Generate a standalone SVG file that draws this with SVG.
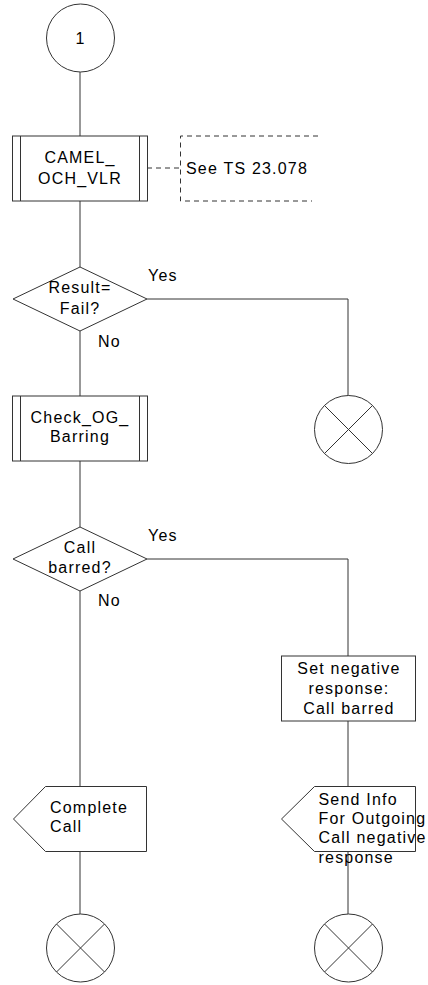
<svg xmlns="http://www.w3.org/2000/svg" width="428" height="985" viewBox="0 0 428 985">
<style>
.s{fill:#fff;stroke:#333;stroke-width:1}
.l{fill:none;stroke:#333;stroke-width:1}
.d{fill:none;stroke:#333;stroke-width:1;stroke-dasharray:5,4}
text{font-family:"Liberation Sans",Arial,sans-serif;font-size:16px;letter-spacing:1.2px;fill:#000}
.c{text-anchor:middle}
</style>
<rect width="428" height="985" fill="#fff"/>
<g id="connectors">
<line class="l" x1="80" y1="72" x2="80" y2="136"/>
<line class="l" x1="80" y1="201" x2="80" y2="267"/>
<polyline class="l" points="147,299 348,299 348,396"/>
<line class="l" x1="80" y1="331" x2="80" y2="396"/>
<line class="l" x1="80" y1="461" x2="80" y2="527"/>
<polyline class="l" points="147,559 348,559 348,656"/>
<line class="l" x1="80" y1="591" x2="80" y2="787"/>
<line class="l" x1="348" y1="721" x2="348" y2="787"/>
<line class="l" x1="80" y1="852" x2="80" y2="916"/>
<line class="l" x1="348" y1="852" x2="348" y2="916"/>
<line class="d" x1="147" y1="168" x2="180" y2="168"/>
<text x="148" y="281">Yes</text>
<text x="98" y="347">No</text>
<text x="148" y="541">Yes</text>
<text x="98" y="606">No</text>
</g>
<g id="start">
<circle class="s" cx="80.5" cy="38" r="34"/>
<text class="c" x="80.5" y="44">1</text>
</g>
<g id="camel">
<rect class="s" x="12.5" y="136" width="135" height="65"/>
<line class="l" x1="20.5" y1="136" x2="20.5" y2="201"/>
<line class="l" x1="139.5" y1="136" x2="139.5" y2="201"/>
<text class="c" x="80" y="163">CAMEL_</text>
<text class="c" x="80" y="184">OCH_VLR</text>
</g>
<g id="comment">
<polyline class="d" points="318,136 180.5,136 180.5,201 312,201"/>
<text x="186" y="174">See TS 23.078</text>
</g>
<g id="dec1">
<polygon class="s" points="80,267 147,299 80,331 13,299"/>
<text class="c" x="80" y="293">Result=</text>
<text class="c" x="80" y="314">Fail?</text>
</g>
<g id="end1">
<circle class="s" cx="348.5" cy="429.5" r="34"/>
<path class="l" d="M324.5,405.5 L372.5,453.5 M372.5,405.5 L324.5,453.5"/>
</g>
<g id="check">
<rect class="s" x="12.5" y="396" width="135" height="65"/>
<line class="l" x1="20.5" y1="396" x2="20.5" y2="461"/>
<line class="l" x1="139.5" y1="396" x2="139.5" y2="461"/>
<text class="c" x="80" y="423">Check_OG_</text>
<text class="c" x="80" y="442">Barring</text>
</g>
<g id="dec2">
<polygon class="s" points="80,527 147,559 80,591 13,559"/>
<text class="c" x="80" y="553">Call</text>
<text class="c" x="80" y="573">barred?</text>
</g>
<g id="setneg">
<rect class="s" x="281.5" y="656" width="134" height="65"/>
<text class="c" x="349" y="674">Set negative</text>
<text class="c" x="349" y="694">response:</text>
<text class="c" x="349" y="714">Call barred</text>
</g>
<g id="complete">
<polygon class="s" points="45.5,786.5 146.5,786.5 146.5,851.5 45.5,851.5 13.5,819"/>
<text x="50" y="813">Complete</text>
<text x="50" y="832">Call</text>
</g>
<g id="sendinfo">
<polygon class="s" points="314.5,786.5 415.5,786.5 415.5,851.5 314.5,851.5 281.5,819"/>
<text x="318.5" y="805">Send Info</text>
<text x="318.5" y="824">For Outgoing</text>
<text x="318.5" y="843">Call negative</text>
<text x="318.5" y="863">response</text>
</g>
<g id="end2">
<circle class="s" cx="80.5" cy="948" r="34"/>
<path class="l" d="M56.5,924 L104.5,972 M104.5,924 L56.5,972"/>
</g>
<g id="end3">
<circle class="s" cx="348.5" cy="948" r="34"/>
<path class="l" d="M324.5,924 L372.5,972 M372.5,924 L324.5,972"/>
</g>
</svg>
